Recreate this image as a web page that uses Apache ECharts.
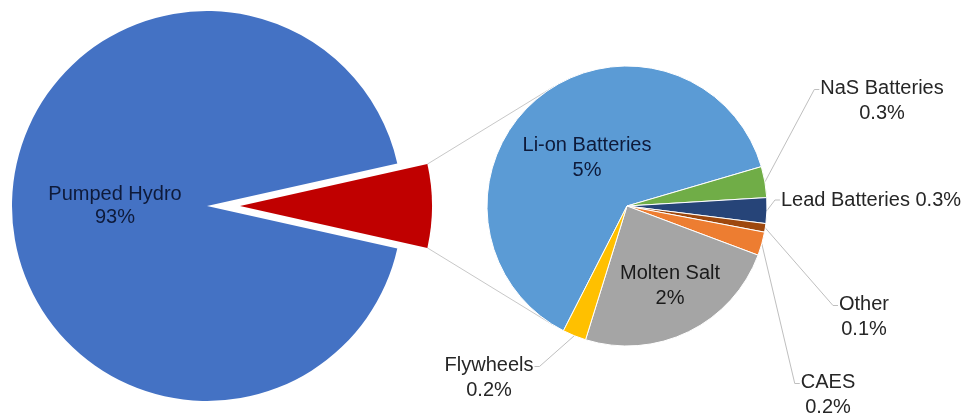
<!DOCTYPE html>
<html><head><meta charset="utf-8">
<script src="https://cdn.jsdelivr.net/npm/echarts@6/dist/echarts.min.js"></script>
<style>html,body{margin:0;padding:0;background:#fff}#c{width:969px;height:418px}</style>
</head><body><div id="c"></div>
<script>
// ---- data ----
const mainCategories = ['Other Storage', 'Pumped Hydro'];
const mainValues = [7, 93];
const mainLabels = ['7%', '93%'];
const subCategories = ['Li-on Batteries', 'NaS Batteries', 'Lead Batteries', 'Other', 'CAES', 'Molten Salt', 'Flywheels'];
const subValues = [5.1, 0.29, 0.24, 0.08, 0.22, 1.95, 0.22];
const subLabels = ['5%', '0.3%', '0.3%', '0.1%', '0.2%', '2%', '0.2%'];

// ---- styles / layout ----
const mainColors = ['#C00000', '#4472C4'];
const subColors = ['#5B9BD5', '#70AD47', '#264478', '#9E480E', '#ED7D31', '#A5A5A5', '#FFC000'];
const MAIN_C = [207, 206], MAIN_R = 195, WEDGE_R = 192, OFFSET = 33;
const SUB_C = [627, 206], SUB_R = 140, SUB_START = 243;
const FONT = 'Liberation Sans, Arial, sans-serif';
const FS = 20, LH = 25;
const mainLabelPos = {1: [115, 206]};
// label centres for the second pie
const subLabelPos = {0: [587, 158], 1: [882, 101], 2: [871, 200], 3: [864, 317], 4: [828, 395], 5: [670, 286], 6: [489, 378]};
const insideIdx = {0: true, 5: true};

const mainTotal = mainValues.reduce((a, b) => a + b, 0);
const halfAngle = mainValues[0] / mainTotal * 180; // degrees
const mainStart = halfAngle;

// connector lines: from exploded wedge corners to tangent points on second pie
function wedgeCorner(sign) {
  const a = sign * halfAngle * Math.PI / 180;
  return [MAIN_C[0] + OFFSET + WEDGE_R * Math.cos(a), MAIN_C[1] + WEDGE_R * Math.sin(a)];
}
function tangent(P, upper) {
  const dx = P[0] - SUB_C[0], dy = P[1] - SUB_C[1];
  const d = Math.sqrt(dx * dx + dy * dy);
  const t0 = Math.atan2(dy, dx);
  const al = Math.acos(SUB_R / d);
  const t = upper ? t0 + al : t0 - al;
  return [SUB_C[0] + SUB_R * Math.cos(t), SUB_C[1] + SUB_R * Math.sin(t)];
}
const pTop = wedgeCorner(-1), pBot = wedgeCorner(1);
const tTop = tangent(pTop, true), tBot = tangent(pBot, false);

const chart = echarts.init(document.getElementById('c'), null, {renderer: 'canvas'});
chart.setOption({
  animation: false,
  backgroundColor: '#fff',
  graphic: [
    {type: 'line', z: 0, silent: true, shape: {x1: pTop[0], y1: pTop[1], x2: tTop[0], y2: tTop[1]}, style: {stroke: '#c8c8c8', lineWidth: 1}},
    {type: 'line', z: 0, silent: true, shape: {x1: pBot[0], y1: pBot[1], x2: tBot[0], y2: tBot[1]}, style: {stroke: '#c8c8c8', lineWidth: 1}}
  ],
  series: [
    {
      // first pie: pumped hydro (wedge slot left empty)
      type: 'pie',
      center: MAIN_C,
      radius: MAIN_R,
      startAngle: mainStart,
      clockwise: true,
      avoidLabelOverlap: false,
      emphasis: {disabled: true},
      itemStyle: {borderWidth: 0},
      label: {
        show: true, position: 'inside', fontFamily: FONT, fontSize: FS, lineHeight: 23,
        color: '#0e1a3a', align: 'center',
        formatter: p => p.dataIndex === 0 ? '' : p.name + '\n' + mainLabels[p.dataIndex]
      },
      labelLine: {show: false},
      labelLayout: function (params) {
        const pos = mainLabelPos[params.dataIndex];
        if (!pos) return {};
        return {x: pos[0], y: pos[1], align: 'center', verticalAlign: 'middle'};
      },
      data: mainCategories.map((n, i) => ({
        name: n, value: mainValues[i],
        itemStyle: {color: i === 0 ? 'rgba(0,0,0,0)' : mainColors[i]}
      }))
    },
    {
      // exploded wedge of the first pie
      type: 'pie',
      center: MAIN_C,
      radius: WEDGE_R,
      startAngle: mainStart,
      clockwise: true,
      selectedMode: 'single',
      selectedOffset: OFFSET,
      emphasis: {disabled: true},
      itemStyle: {borderWidth: 0},
      label: {show: false},
      labelLine: {show: false},
      data: mainCategories.map((n, i) => ({
        name: n, value: mainValues[i], selected: i === 0,
        itemStyle: {color: i === 0 ? mainColors[i] : 'rgba(0,0,0,0)'}
      }))
    },
    {
      type: 'pie',
      center: SUB_C,
      radius: SUB_R,
      startAngle: SUB_START,
      clockwise: true,
      avoidLabelOverlap: false,
      emphasis: {disabled: true},
      itemStyle: {borderColor: '#ffffff', borderWidth: 1},
      label: {
        show: true, position: 'outside', fontFamily: FONT, fontSize: FS, lineHeight: LH,
        color: '#262626', align: 'center',
        formatter: p => p.dataIndex === 2 ? p.name + ' ' + subLabels[p.dataIndex] : p.name + '\n' + subLabels[p.dataIndex]
      },
      labelLine: {show: true, length: 10, length2: 6, lineStyle: {color: '#bfbfbf', width: 1}},
      labelLayout: function (params) {
        const i = params.dataIndex;
        const pos = subLabelPos[i];
        if (!pos) return {};
        const res = {x: pos[0], y: pos[1], align: 'center', verticalAlign: 'middle'};
        if (!insideIdx[i] && params.labelLinePoints) {
          const start = params.labelLinePoints[0];
          const w = params.labelRect.width, h = params.labelRect.height;
          const left = pos[0] < start[0];
          const ax = left ? pos[0] + w / 2 + 1 : pos[0] - w / 2 - 1;
          const lines = Math.round(h / LH);
          const ay = lines > 1 ? pos[1] - h / 2 + LH / 2 + 1 : pos[1];
          const bx = left ? ax + 5 : ax - 5;
          res.labelLinePoints = [start, [bx, ay], [ax, ay]];
        }
        return res;
      },
      data: subCategories.map((n, i) => {
        const d = {name: n, value: subValues[i], itemStyle: {color: subColors[i]}};
        if (i === 0) { d.label = {position: 'inside', color: '#0e1a3a'}; d.labelLine = {show: false}; }
        if (i === 5) { d.label = {position: 'inside', color: '#1a1a1a'}; d.labelLine = {show: false}; }
        return d;
      })
    }
  ]
});
</script>
</body></html>
